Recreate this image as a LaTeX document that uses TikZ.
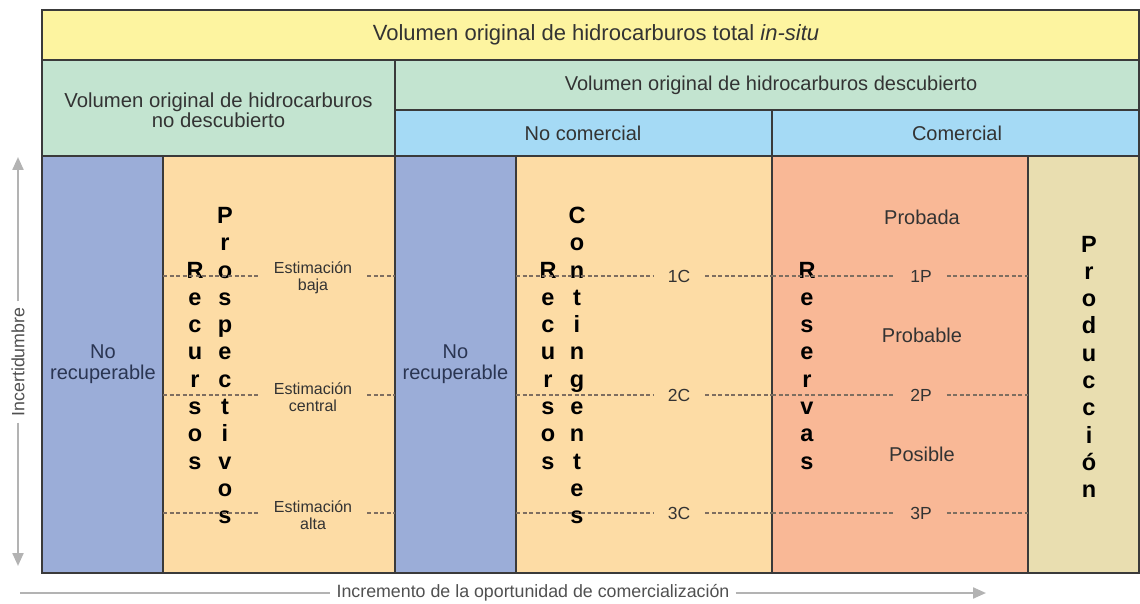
\documentclass[tikz,border=0pt]{standalone}
\usepackage{fontspec}
\setmainfont{Liberation Sans}
\usetikzlibrary{arrows.meta}
\definecolor{cyellow}{HTML}{FDF4A0}
\definecolor{cgreen}{HTML}{C3E4D0}
\definecolor{cblue}{HTML}{A5DAF5}
\definecolor{cslate}{HTML}{9BADD8}
\definecolor{cpeach}{HTML}{FDDCA5}
\definecolor{csalmon}{HTML}{F9B896}
\definecolor{ckhaki}{HTML}{E9DEB0}
\definecolor{cborder}{HTML}{3A3A3A}
\definecolor{ctext}{HTML}{333333}
\definecolor{cnavy}{HTML}{2A3552}
\definecolor{cdash}{HTML}{7E6E60}
\definecolor{caxis}{HTML}{B3B3B3}
\definecolor{caxtext}{HTML}{505050}
\tikzset{
  cell/.style={draw=cborder, line width=1.2pt},
  hdr/.style={font=\fontsize{20}{20}\selectfont, text=ctext, align=center, inner sep=0pt},
  hdrbig/.style={font=\fontsize{22}{22}\selectfont, text=ctext, align=center, inner sep=0pt},
  hdrtwo/.style={font=\fontsize{20.3}{19.5}\selectfont, text=ctext, align=center, inner sep=0pt},
  norec/.style={font=\fontsize{20}{21}\selectfont, text=cnavy, align=center, inner sep=0pt},
  vletter/.style={font=\fontsize{23.5}{23.5}\selectfont\bfseries, text=black, anchor=base, inner sep=0pt},
  estim/.style={font=\fontsize{16}{17}\selectfont, text=ctext, align=center, inner xsep=15pt, inner ysep=0pt},
  lvl/.style={font=\fontsize{17.5}{18}\selectfont, text=ctext, inner xsep=15pt, inner ysep=0pt},
  cat/.style={font=\fontsize{20}{20}\selectfont, text=ctext, inner sep=0pt},
  dline/.style={draw=cdash, dashed, dash pattern=on 4pt off 2.5pt, line width=1.1pt},
  axisline/.style={draw=caxis, line width=2.2pt},
  axisarrow/.style={draw=caxis, line width=2.2pt, -{Triangle[length=13pt,width=11pt]}},
  axislbl/.style={font=\fontsize{17.8}{18}\selectfont, text=caxtext, inner xsep=6pt, inner ysep=0pt}
}
\begin{document}
\begin{tikzpicture}[x=1pt,y=-1pt]
\useasboundingbox (0,0) rectangle (1140,604);
% cells
\filldraw[cell, fill=cyellow] (42,10) rectangle (1139,60);
\filldraw[cell, fill=cgreen] (42,60) rectangle (395,156);
\filldraw[cell, fill=cgreen] (395,60) rectangle (1139,110);
\filldraw[cell, fill=cblue] (395,110) rectangle (772,156);
\filldraw[cell, fill=cblue] (772,110) rectangle (1139,156);
\filldraw[cell, fill=cslate] (42,156) rectangle (163,573);
\filldraw[cell, fill=cpeach] (163,156) rectangle (395,573);
\filldraw[cell, fill=cslate] (395,156) rectangle (516,573);
\filldraw[cell, fill=cpeach] (516,156) rectangle (772,573);
\filldraw[cell, fill=csalmon] (772,156) rectangle (1028,573);
\filldraw[cell, fill=ckhaki] (1028,156) rectangle (1139,573);

% headers
\node[hdrbig] (total) at (596,35) {Volumen original de hidrocarburos total \textit{in-situ}};
\node[hdrtwo] (nodesc) at (218.5,110) {Volumen original de hidrocarburos\\no descubierto};
\node[hdr] (desc) at (771,85) {Volumen original de hidrocarburos descubierto};
\node[hdr] (nocom) at (583,133) {No comercial};
\node[hdr] (com) at (957,133) {Comercial};

% no recuperable
\node[norec] (nr1) at (103,364) {No\\recuperable};
\node[norec] (nr2) at (455.5,364) {No\\recuperable};

% vertical words
\foreach \l [count=\i] in {R,e,c,u,r,s,o,s}
  \node[vletter] (rp\i) at (195,{278+27.3*(\i-1)}) {\l};
\foreach \l [count=\i] in {P,r,o,s,p,e,c,t,i,v,o,s}
  \node[vletter] (pr\i) at (225,{223.4+27.3*(\i-1)}) {\l};
\foreach \l [count=\i] in {R,e,c,u,r,s,o,s}
  \node[vletter] (rc\i) at (548,{278+27.3*(\i-1)}) {\l};
\foreach \l [count=\i] in {C,o,n,t,i,n,g,e,n,t,e,s}
  \node[vletter] (co\i) at (577,{223.4+27.3*(\i-1)}) {\l};
\foreach \l [count=\i] in {R,e,s,e,r,v,a,s}
  \node[vletter] (re\i) at (807,{278+27.3*(\i-1)}) {\l};
\foreach \l [count=\i] in {P,r,o,d,u,c,c,i,ó,n}
  \node[vletter] (pd\i) at (1089,{252+27.3*(\i-1)}) {\l};

% estimations
\node[estim] (eb) at (313,278) {Estimación\\baja};
\node[estim] (ec) at (313,397) {Estimación\\central};
\node[estim] (ea) at (313,515) {Estimación\\alta};
\draw[dline] (163,276) -- (eb.west |- 0,276);
\draw[dline] (eb.east |- 0,276) -- (395,276);
\draw[dline] (163,395) -- (ec.west |- 0,395);
\draw[dline] (ec.east |- 0,395) -- (395,395);
\draw[dline] (163,513) -- (ea.west |- 0,513);
\draw[dline] (ea.east |- 0,513) -- (395,513);

% contingent levels
\node[lvl] (c1) at (679,276) {1C};
\node[lvl] (c2) at (679,395) {2C};
\node[lvl] (c3) at (679,513) {3C};
\draw[dline] (516,276) -- (c1.west); \draw[dline] (c1.east) -- (772,276);
\draw[dline] (516,395) -- (c2.west); \draw[dline] (c2.east) -- (772,395);
\draw[dline] (516,513) -- (c3.west); \draw[dline] (c3.east) -- (772,513);

% reserves levels
\node[cat] (prob) at (922,217) {Probada};
\node[cat] (probl) at (922,335) {Probable};
\node[cat] (pos) at (922,454) {Posible};
\node[lvl] (p1) at (921,276) {1P};
\node[lvl] (p2) at (921,395) {2P};
\node[lvl] (p3) at (921,513) {3P};
\draw[dline] (772,276) -- (p1.west); \draw[dline] (p1.east) -- (1028,276);
\draw[dline] (772,395) -- (p2.west); \draw[dline] (p2.east) -- (1028,395);
\draw[dline] (772,513) -- (p3.west); \draw[dline] (p3.east) -- (1028,513);

% axes
\node[axislbl, rotate=90] (unc) at (18,362) {Incertidumbre};
\coordinate (utop) at (18,157);
\coordinate (ubot) at (18,566);
\draw[axisarrow] (unc.east) -- (utop);
\draw[axisarrow] (unc.west) -- (ubot);
\node[axislbl] (inc) at (533,593) {Incremento de la oportunidad de comercialización};
\coordinate (bl) at (20,593);
\coordinate (br) at (986,593);
\draw[axisline] (bl) -- (inc.west);
\draw[axisarrow] (inc.east) -- (br);
\end{tikzpicture}
\end{document}
